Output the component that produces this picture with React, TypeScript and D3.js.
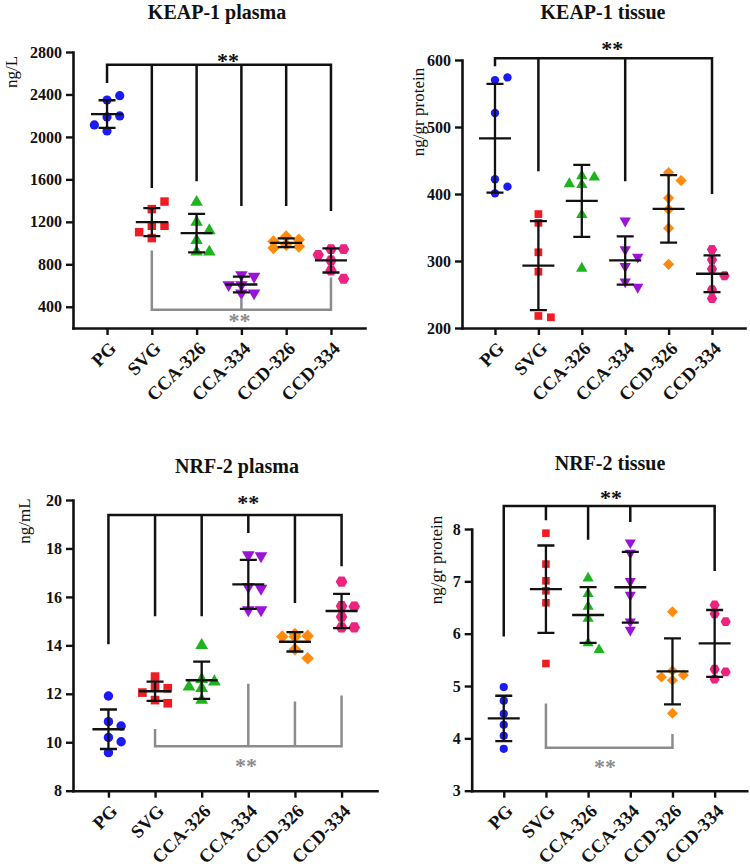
import * as d3 from "d3";
import { useEffect, useRef } from "react";

const groups = ["PG", "SVG", "CCA-326", "CCA-334", "CCD-326", "CCD-334"];
const groupColors = ["#1a1af2", "#ee1c23", "#1db41d", "#9b12d9", "#ff8a0d", "#ec237f"];

// individual animals per group (n = 6)
const keapPlasma = [
  [2348, 2389, 2188, 2198, 2113, 2056],
  [1320, 1391, 1163, 1163, 1103, 1047],
  [1385, 1198, 1118, 1025, 916, 916],
  [701, 686, 607, 607, 529, 529],
  [1062, 1031, 1015, 984, 968, 953],
  [943, 943, 889, 836, 742, 664],
];
const keapTissue = [
  [570, 574, 521, 422, 411, 401],
  [370, 357, 313, 284, 218, 216],
  [427, 425, 415, 414, 369, 289],
  [360, 317, 306, 292, 269, 261],
  [432, 420, 394, 377, 349, 295],
  [317, 302, 288, 278, 257, 244],
];
const nrfPlasma = [
  [11.91, 10.85, 10.67, 10.2, 10.02, 9.57],
  [12.71, 12.29, 12.23, 12.05, 11.74, 11.61],
  [14.0, 12.6, 12.5, 12.29, 12.23, 11.74],
  [17.73, 17.69, 16.42, 16.35, 15.46, 15.46],
  [14.47, 14.39, 14.36, 14.36, 13.84, 13.47],
  [16.63, 15.62, 15.6, 15.18, 14.74, 14.74],
];
const nrfTissue = [
  [4.98, 4.72, 4.47, 4.26, 4.05, 3.8],
  [7.92, 7.33, 7.01, 6.82, 6.59, 5.43],
  [7.06, 6.76, 6.52, 6.29, 5.82, 5.69],
  [7.74, 7.54, 7.0, 6.74, 6.23, 6.07],
  [6.42, 5.29, 5.21, 5.17, 5.11, 4.48],
  [6.55, 6.38, 6.23, 5.32, 5.27, 5.13],
];

const keapPlasmaTicks = [400, 800, 1200, 1600, 2000, 2400, 2800];
const keapTissueTicks = [200, 300, 400, 500, 600];
const nrfPlasmaTicks = [8, 10, 12, 14, 16, 18, 20];
const nrfTissueTicks = [3, 4, 5, 6, 7, 8];

// significance brackets: bar level, leg ends per group, "**" level and position (in group steps)
type Bracket = { level: number; legs: [string, number][]; starY: number; starAt: number };

const keapPlasmaVsPG: Bracket = {
  level: 2680,
  legs: [["PG", 2520], ["SVG", 1530], ["CCA-326", 1595], ["CCA-334", 1360], ["CCD-326", 1360], ["CCD-334", 1313]],
  starY: 2744,
  starAt: 2.7,
};
const keapPlasmaVsSVG: Bracket = {
  level: 372,
  legs: [["SVG", 918], ["CCA-334", 466], ["CCD-334", 664]],
  starY: 297,
  starAt: 2.96,
};
const keapTissueVsPG: Bracket = {
  level: 602.5,
  legs: [["PG", 592.5], ["SVG", 436], ["CCA-334", 421], ["CCD-334", 402]],
  starY: 622,
  starAt: 2.7,
};
const nrfPlasmaVsPG: Bracket = {
  level: 19.38,
  legs: [["PG", 14.1], ["SVG", 15.25], ["CCA-326", 15.25], ["CCA-334", 18.69], ["CCD-326", 15.8], ["CCD-334", 17.32]],
  starY: 20.0,
  starAt: 3.0,
};
const nrfPlasmaVsSVG: Bracket = {
  level: 9.84,
  legs: [["SVG", 10.5], ["CCA-334", 12.36], ["CCD-326", 11.63], ["CCD-334", 11.88]],
  starY: 9.14,
  starAt: 2.95,
};
const nrfTissueVsPG: Bracket = {
  level: 8.44,
  legs: [["PG", 5.97], ["SVG", 8.19], ["CCA-326", 7.82], ["CCA-334", 8.16], ["CCD-334", 7.22]],
  starY: 8.65,
  starAt: 2.54,
};
const nrfTissueVsSVG: Bracket = {
  level: 3.82,
  legs: [["SVG", 4.64], ["CCD-326", 4.06]],
  starY: 3.52,
  starAt: 2.4,
};

const serif = "'Liberation Serif', 'Times New Roman', serif";
const ink = "#111";
const grey = "#8c8c8c";

const hexagon: d3.SymbolType = {
  draw(ctx, size) {
    const r = Math.sqrt(size / (1.5 * Math.sqrt(3)));
    ctx.moveTo(r, 0);
    for (let i = 1; i < 6; i++) {
      ctx.lineTo(r * Math.cos((i * Math.PI) / 3), r * Math.sin((i * Math.PI) / 3));
    }
    ctx.closePath();
  },
};

// marker shape per group; area is in units of r^2
const markers: { type: d3.SymbolType; area: number; rotate: number }[] = [
  { type: d3.symbolCircle, area: Math.PI, rotate: 0 },
  { type: d3.symbolSquare, area: 3.4, rotate: 0 },
  { type: d3.symbolTriangle, area: 3.2, rotate: 0 },
  { type: d3.symbolTriangle, area: 3.2, rotate: 180 },
  { type: d3.symbolSquare, area: 3.6, rotate: 45 },
  { type: hexagon, area: 4.0, rotate: 0 },
];

type PanelConfig = {
  title: string;
  unit: string;
  values: number[][];
  domain: [number, number];
  ticks: number[];
  box: { left: number; right: number; top: number; bottom: number };
  titleAt: [number, number];
  unitAt: [number, number];
  r: number;
  col: number;
  brackets: { b: Bracket; color: string }[];
};

const panels: PanelConfig[] = [
  {
    title: "KEAP-1 plasma",
    unit: "ng/L",
    values: keapPlasma,
    domain: [200, 2800],
    ticks: keapPlasmaTicks,
    box: { left: 73, right: 365, top: 52, bottom: 328 },
    titleAt: [217, 19],
    unitAt: [17, 72],
    r: 4.6,
    col: 12.7,
    brackets: [
      { b: keapPlasmaVsPG, color: ink },
      { b: keapPlasmaVsSVG, color: grey },
    ],
  },
  {
    title: "KEAP-1 tissue",
    unit: "ng/gr protein",
    values: keapTissue,
    domain: [200, 600],
    ticks: keapTissueTicks,
    box: { left: 462, right: 745, top: 60, bottom: 328 },
    titleAt: [603, 18.5],
    unitAt: [424, 112],
    r: 4.2,
    col: 12.5,
    brackets: [{ b: keapTissueVsPG, color: ink }],
  },
  {
    title: "NRF-2 plasma",
    unit: "ng/mL",
    values: nrfPlasma,
    domain: [8, 20],
    ticks: nrfPlasmaTicks,
    box: { left: 73, right: 377, top: 500, bottom: 790.7 },
    titleAt: [237, 472.5],
    unitAt: [30, 521],
    r: 4.7,
    col: 12.7,
    brackets: [
      { b: nrfPlasmaVsPG, color: ink },
      { b: nrfPlasmaVsSVG, color: grey },
    ],
  },
  {
    title: "NRF-2 tissue",
    unit: "ng/gr protein",
    values: nrfTissue,
    domain: [3, 8],
    ticks: nrfTissueTicks,
    box: { left: 471.7, right: 746.7, top: 529, bottom: 790.7 },
    titleAt: [610, 470],
    unitAt: [442, 560],
    r: 4.1,
    col: 11,
    brackets: [
      { b: nrfTissueVsPG, color: ink },
      { b: nrfTissueVsSVG, color: grey },
    ],
  },
];

// greedy placement in three columns; when all are taken, use the roomiest one
const spreadColumns = (pys: number[], h: number) => {
  const placed: { col: number; py: number }[] = [];
  const gap = (col: number, py: number) =>
    d3.min(placed.filter((p) => p.col === col), (p) => Math.abs(p.py - py)) ?? Infinity;
  return pys.map((py) => {
    const cols = [0, 1, -1];
    let col = cols.find((c) => gap(c, py) >= h);
    if (col === undefined) col = cols.reduce((a, c) => (gap(c, py) > gap(a, py) ? c : a), 0);
    placed.push({ col, py });
    return col;
  });
};

const Panel = ({ cfg }: { cfg: PanelConfig }) => {
  const { box } = cfg;
  const x = d3.scalePoint<string>().domain(groups).range([box.left, box.right]).padding(0.76);
  const y = d3.scaleLinear().domain(cfg.domain).range([box.bottom, box.top]);

  const xRef = useRef<SVGGElement>(null);
  const yRef = useRef<SVGGElement>(null);

  useEffect(() => {
    if (yRef.current) {
      const g = d3.select(yRef.current);
      g.call(
        d3
          .axisLeft(y)
          .tickValues(cfg.ticks)
          .tickFormat((d) => String(d))
          .tickSize(7)
          .tickSizeOuter(0)
          .tickPadding(4)
      );
      g.attr("font-family", serif).attr("font-size", 16).attr("font-weight", "bold");
      g.select(".domain").attr("stroke", ink).attr("stroke-width", 2.6).attr("stroke-linecap", "square");
      g.selectAll(".tick line").attr("stroke", ink).attr("stroke-width", 2.4);
      g.selectAll(".tick text").attr("fill", ink);
    }
    if (xRef.current) {
      const g = d3.select(xRef.current);
      g.call(d3.axisBottom(x).tickSize(7).tickSizeOuter(0));
      g.attr("font-family", serif).attr("font-size", 18.5).attr("font-weight", "bold");
      g.select(".domain").attr("stroke", ink).attr("stroke-width", 2.6).attr("stroke-linecap", "square");
      g.selectAll(".tick line").attr("stroke", ink).attr("stroke-width", 2.4);
      g.selectAll(".tick text")
        .attr("fill", ink)
        .attr("y", 0)
        .attr("dy", "0.35em")
        .attr("text-anchor", "end")
        .attr("transform", "translate(5,17) rotate(-45)");
    }
  }, [cfg]);

  const symbol = d3.symbol();

  return (
    <g>
      <text
        x={cfg.titleAt[0]}
        y={cfg.titleAt[1]}
        textAnchor="middle"
        fontFamily={serif}
        fontWeight="bold"
        fontSize={20}
        fill={ink}
      >
        {cfg.title}
      </text>
      <text
        transform={`translate(${cfg.unitAt[0]},${cfg.unitAt[1]}) rotate(-90)`}
        textAnchor="middle"
        fontFamily={serif}
        fontSize={17}
        fill={ink}
      >
        {cfg.unit}
      </text>

      <g ref={yRef} transform={`translate(${box.left},0)`} />
      <g ref={xRef} transform={`translate(0,${box.bottom})`} />

      {cfg.values.map((vals, gi) => {
        const cx = x(groups[gi])!;
        const m = markers[gi];
        const pys = vals.map((v) => y(v));
        const cols = spreadColumns(pys, cfg.r * 2);
        const d = symbol.type(m.type).size(m.area * cfg.r * cfg.r)()!;
        return (
          <g key={groups[gi]} fill={groupColors[gi]}>
            {vals.map((v, i) => (
              <path
                key={i}
                d={d}
                transform={`translate(${cx + cols[i] * cfg.col},${pys[i]}) rotate(${m.rotate})`}
              />
            ))}
          </g>
        );
      })}

      {cfg.values.map((vals, gi) => {
        const cx = x(groups[gi])!;
        const mean = d3.mean(vals)!;
        const sd = d3.deviation(vals)!;
        const path = d3.path();
        path.moveTo(cx - 16, y(mean));
        path.lineTo(cx + 16, y(mean));
        path.moveTo(cx, y(mean + sd));
        path.lineTo(cx, y(mean - sd));
        path.moveTo(cx - 8.5, y(mean + sd));
        path.lineTo(cx + 8.5, y(mean + sd));
        path.moveTo(cx - 8.5, y(mean - sd));
        path.lineTo(cx + 8.5, y(mean - sd));
        return <path key={groups[gi]} d={path.toString()} stroke={ink} strokeWidth={2.3} fill="none" />;
      })}

      {cfg.brackets.map(({ b, color }, bi) => {
        const xs = b.legs.map(([g]) => x(g)!);
        const level = y(b.level);
        const path = d3.path();
        path.moveTo(d3.min(xs)!, level);
        path.lineTo(d3.max(xs)!, level);
        b.legs.forEach(([g, end]) => {
          path.moveTo(x(g)!, level);
          path.lineTo(x(g)!, y(end));
        });
        const starX = x(groups[0])! + b.starAt * x.step();
        return (
          <g key={bi}>
            <path d={path.toString()} stroke={color} strokeWidth={2.5} fill="none" strokeLinecap="square" />
            <text
              x={starX}
              y={y(b.starY) + 0.47 * 22}
              textAnchor="middle"
              fontFamily={serif}
              fontWeight="bold"
              fontSize={22}
              fill={color}
            >
              **
            </text>
          </g>
        );
      })}
    </g>
  );
};

const App = () => {
  return (
    <svg
      width={750}
      height={866}
      viewBox="0 0 750 866"
      style={{ position: "absolute", left: 0, top: 0, background: "#fff" }}
    >
      {panels.map((p) => (
        <Panel key={p.title} cfg={p} />
      ))}
    </svg>
  );
};

export default App;
